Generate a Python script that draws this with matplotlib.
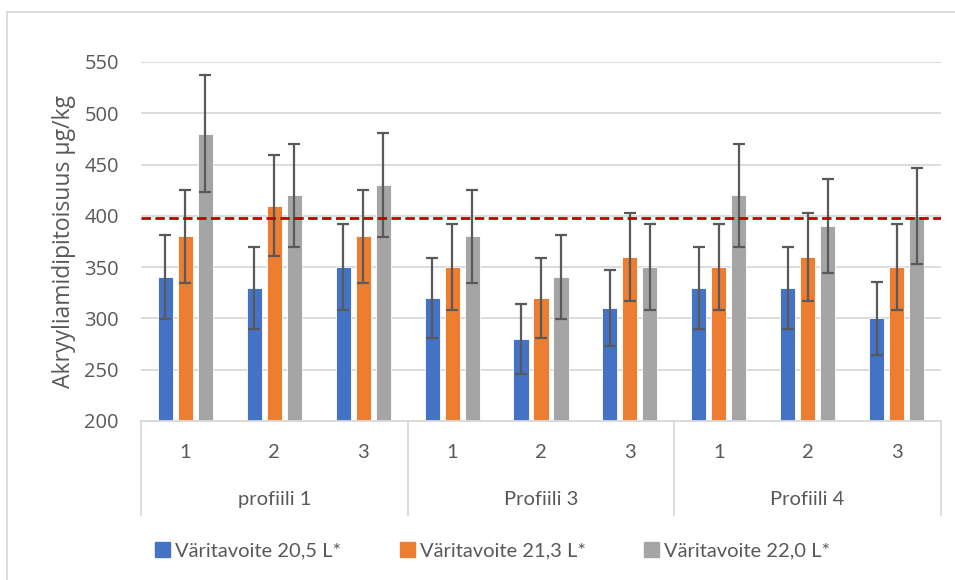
import matplotlib
matplotlib.use("Agg")
import matplotlib.pyplot as plt
from matplotlib.patches import Rectangle
from matplotlib.lines import Line2D
import matplotlib.transforms as mtransforms
import numpy as np

groups = ["profiili 1", "Profiili 3", "Profiili 4"]
subcats = ["1", "2", "3", "1", "2", "3", "1", "2", "3"]
series_names = ["Väritavoite 20,5 L*", "Väritavoite 21,3 L*", "Väritavoite 22,0 L*"]

vals_205 = [340, 330, 350, 320, 280, 310, 330, 330, 300]
vals_213 = [380, 410, 380, 350, 320, 360, 350, 360, 350]
vals_220 = [480, 420, 430, 380, 340, 350, 420, 390, 400]

err_205 = [41, 40, 42, 39, 34, 37, 40, 40, 36]
err_213 = [45, 49, 45, 42, 39, 43, 42, 43, 42]
err_220 = [57, 50, 51, 45, 41, 42, 50, 46, 47]

limit_value = 398
y_ticks = [200, 250, 300, 350, 400, 450, 500, 550]

colors = ["#4472C4", "#ED7D31", "#A5A5A5"]
txt_color = "#595959"
grid_color = "#D9D9D9"

fig = plt.figure(figsize=(9.55, 5.8), dpi=100)
ax = fig.add_axes([141/955, 1-421/580, 800/955, 359/580])

x = np.arange(len(subcats))
width = 0.17
offsets = [-0.225, 0.0, 0.225]
for vals, errs, c, off, name in zip([vals_205, vals_213, vals_220],
                                     [err_205, err_213, err_220],
                                     colors, offsets, series_names):
    ax.bar(x + off, np.array(vals) - 200, bottom=200, width=width, color=c,
           edgecolor="white", linewidth=0.6, zorder=2, label=name)
    ax.errorbar(x + off, vals, yerr=errs, fmt="none", ecolor="#595959",
                elinewidth=1.6, capsize=4.3, capthick=1.6, zorder=3)

ax.axhline(limit_value, color="#C00000", linestyle=(0, (3.4, 1.6)), linewidth=2.0, zorder=4)

ax.set_xlim(-0.5, len(subcats) - 0.5)
ax.set_ylim(200, 550)
ax.set_yticks(y_ticks)
ax.set_yticklabels([str(t) for t in y_ticks], fontsize=14.5, color=txt_color,
                   family=["Open Sans", "DejaVu Sans"])
ax.tick_params(axis="y", length=0, pad=16)
ax.set_xticks([])
ax.yaxis.grid(True, color=grid_color, linewidth=1.3, zorder=0)
ax.set_axisbelow(True)
for s in ["top", "right", "left"]:
    ax.spines[s].set_visible(False)
ax.spines["bottom"].set_color(grid_color)
ax.spines["bottom"].set_linewidth(1.3)

ax.set_ylabel("Akryyliamidipitoisuus µg/kg", fontsize=16.5, color=txt_color,
              family=["Open Sans", "DejaVu Sans"], labelpad=6)

trans = mtransforms.blended_transform_factory(ax.transData, ax.transAxes)
for b in [-0.5, 2.5, 5.5, 8.5]:
    ax.add_line(Line2D([b, b], [0, -0.262], transform=trans, color=grid_color,
                       linewidth=1.3, clip_on=False))
for xi, lab in zip(x, subcats):
    ax.text(xi, -0.089, lab, transform=trans, ha="center", va="center",
            fontsize=14.5, color=txt_color, family=["Lato", "DejaVu Sans"])
for gi, g in enumerate(groups):
    ax.text(gi * 3 + 1, -0.22, g, transform=trans, ha="center", va="center",
            fontsize=14.5, color=txt_color, family=["Lato", "DejaVu Sans"])

handles = [Rectangle((0, 0), 1, 1, color=c) for c in colors]
leg = fig.legend(handles, series_names, loc="center", bbox_to_anchor=(0.516, 1-551/580),
                 ncol=3, frameon=False, handlelength=0.75, handleheight=0.75,
                 handletextpad=0.25, columnspacing=2.9,
                 prop={"family": ["Lato", "DejaVu Sans"], "size": 14.5})
for t in leg.get_texts():
    t.set_color(txt_color)

# outer chart border
fig.add_artist(Line2D([7/955, 7/955], [0, 1-12/580], transform=fig.transFigure,
                      color=grid_color, linewidth=1.3))
fig.add_artist(Line2D([7/955, 1], [1-12/580, 1-12/580], transform=fig.transFigure,
                      color=grid_color, linewidth=1.3))

fig.savefig("out.png", dpi=100)
